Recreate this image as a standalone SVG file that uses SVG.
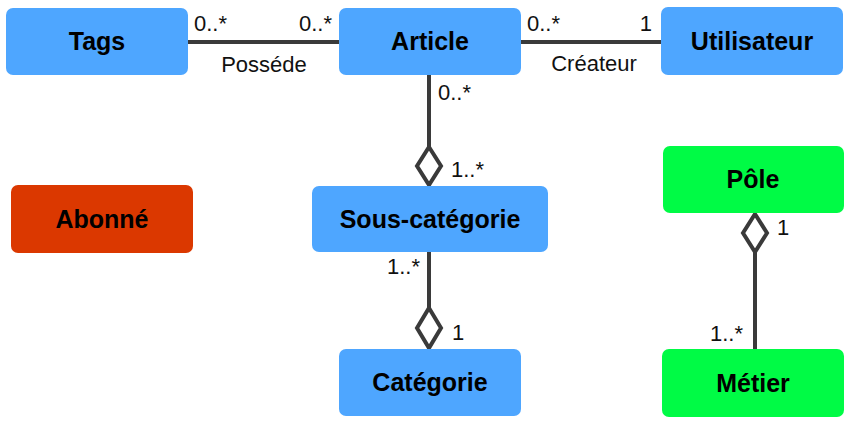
<svg xmlns="http://www.w3.org/2000/svg" width="854" height="425" viewBox="0 0 854 425">
<style>
.node{stroke:none}
.blue{fill:#4ea6ff}
.green{fill:#00fb45}
.red{fill:#db3800}
.nt{font-family:"Liberation Sans",Arial,sans-serif;font-weight:bold;font-size:25px;fill:#000;text-anchor:middle}
.lbl{font-family:"Liberation Sans",Arial,sans-serif;font-size:22px;fill:#111}
.ln{stroke:#3a3a3a;stroke-width:4;fill:none}
.dia{stroke:#3a3a3a;stroke-width:4;fill:#fff;stroke-linejoin:miter}
</style>
<rect width="854" height="425" fill="#fff"/>
<g id="connectors">
<line class="ln" x1="188" y1="42" x2="339" y2="42"/>
<line class="ln" x1="521" y1="42" x2="661" y2="42"/>
<line class="ln" x1="429" y1="75" x2="429" y2="147"/>
<polygon class="dia" points="429,147 441,166 429,185 417,166"/>
<line class="ln" x1="429" y1="252" x2="429" y2="308"/>
<polygon class="dia" points="429,308 441,328 429,348 417,328"/>
<line class="ln" x1="755" y1="250" x2="755" y2="350"/>
<polygon class="dia" points="755,214 767,233 755,252 743,233"/>
<text class="lbl" x="194" y="31">0..*</text>
<text class="lbl" x="332" y="31" text-anchor="end">0..*</text>
<text class="lbl" x="264" y="72" text-anchor="middle">Posséde</text>
<text class="lbl" x="527" y="31">0..*</text>
<text class="lbl" x="652" y="31" text-anchor="end">1</text>
<text class="lbl" x="594" y="71" text-anchor="middle">Créateur</text>
<text class="lbl" x="438" y="100">0..*</text>
<text class="lbl" x="451" y="177">1..*</text>
<text class="lbl" x="420" y="274" text-anchor="end">1..*</text>
<text class="lbl" x="452" y="340">1</text>
<text class="lbl" x="777" y="235">1</text>
<text class="lbl" x="743" y="341" text-anchor="end">1..*</text>
</g>
<g id="tags"><rect class="node blue" x="6" y="8" width="182" height="67" rx="7"/><text class="nt" x="97" y="50">Tags</text></g>
<g id="article"><rect class="node blue" x="339" y="8" width="182" height="67" rx="7"/><text class="nt" x="430" y="50">Article</text></g>
<g id="utilisateur"><rect class="node blue" x="661" y="7" width="182" height="68" rx="7"/><text class="nt" x="752" y="50">Utilisateur</text></g>
<g id="sous-categorie"><rect class="node blue" x="312" y="186" width="236" height="66" rx="7"/><text class="nt" x="430" y="228">Sous-catégorie</text></g>
<g id="categorie"><rect class="node blue" x="339" y="349" width="182" height="67" rx="7"/><text class="nt" x="430" y="391">Catégorie</text></g>
<g id="abonne"><rect class="node red" x="11" y="185" width="182" height="68" rx="7"/><text class="nt" x="102" y="228">Abonné</text></g>
<g id="pole"><rect class="node green" x="663" y="146" width="181" height="67" rx="7"/><text class="nt" x="753" y="188">Pôle</text></g>
<g id="metier"><rect class="node green" x="662" y="349" width="182" height="68" rx="7"/><text class="nt" x="753" y="392">Métier</text></g>
</svg>
